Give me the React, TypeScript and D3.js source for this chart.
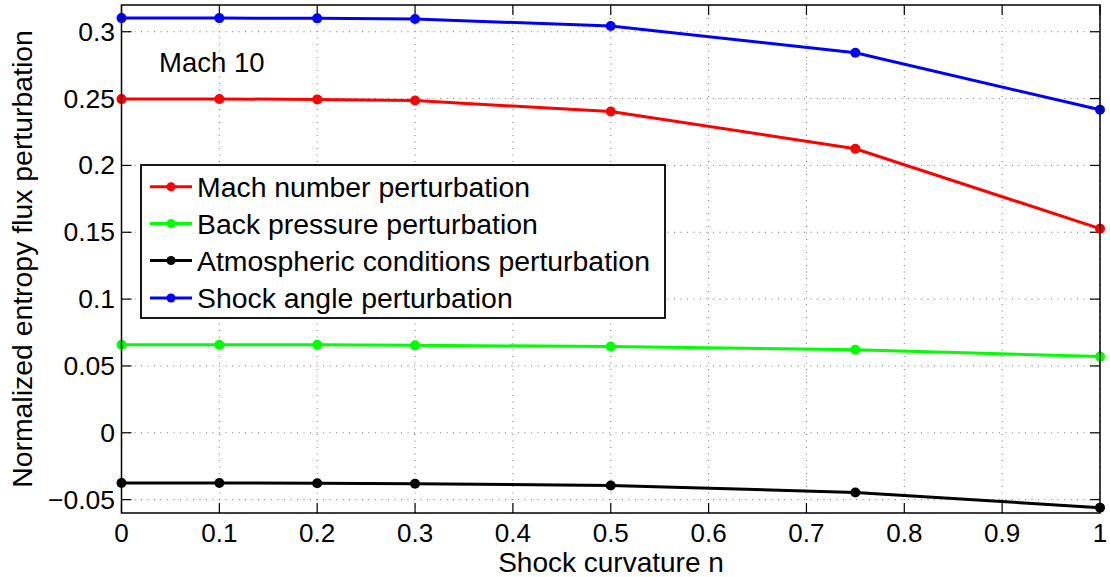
import React from "react";
import * as d3 from "d3";

const xValues = [0, 0.1, 0.2, 0.3, 0.5, 0.75, 1];
const machSeries = [0.2496, 0.2497, 0.2494, 0.2485, 0.2403, 0.2125, 0.1527];
const backSeries = [0.0659, 0.0659, 0.0659, 0.0654, 0.0646, 0.0622, 0.0570];
const atmoSeries = [-0.0376, -0.0376, -0.0377, -0.0381, -0.0394, -0.0446, -0.0560];
const shockSeries = [0.3102, 0.3102, 0.3100, 0.3095, 0.3043, 0.2843, 0.2416];
const xTicks = [0, 0.1, 0.2, 0.3, 0.4, 0.5, 0.6, 0.7, 0.8, 0.9, 1];
const yTicks = [-0.05, 0, 0.05, 0.1, 0.15, 0.2, 0.25, 0.3];
const seriesNames = [
  "Mach number perturbation",
  "Back pressure perturbation",
  "Atmospheric conditions perturbation",
  "Shock angle perturbation",
];
const seriesColors = ["#ff0000", "#00ff00", "#000000", "#0000ff"];
const allSeries = [machSeries, backSeries, atmoSeries, shockSeries];

export default function App() {
  const W = 1110, H = 577;
  const L = 121.5, R = 1100, T = 5, B = 513;
  const x = d3.scaleLinear().domain([0, 1]).range([L, R]);
  const y = d3.scaleLinear().domain([-0.06, 0.32]).range([B, T]);
  const line = d3.line<number>().x((_, i) => x(xValues[i])).y((d) => y(d));
  const font = "'Liberation Sans', Arial, Helvetica, sans-serif";
  const fmt = (v: number) => {
    const s = String(+v.toFixed(2));
    return s.startsWith("-") ? "\u2212" + s.slice(1) : s;
  };
  const legX = 141, legY = 165, legW = 524, legH = 153;
  const rowY = [186.7, 223.5, 260.5, 298];
  return (
    <svg width={W} height={H} style={{ position: "absolute", left: 0, top: 0, background: "#fff" }} fontFamily={font}>
      <rect x={0} y={0} width={W} height={H} fill="#fff" />
      {/* grid */}
      {xTicks.map((t) => (
        <line key={"gx" + t} x1={x(t)} x2={x(t)} y1={T} y2={B} stroke="#777" strokeWidth={1} strokeDasharray="1,5.5" />
      ))}
      {yTicks.map((t) => (
        <line key={"gy" + t} x1={L} x2={R} y1={y(t)} y2={y(t)} stroke="#777" strokeWidth={1} strokeDasharray="1,5.5" />
      ))}
      {/* ticks */}
      {xTicks.map((t) => (
        <g key={"tx" + t}>
          <line x1={x(t)} x2={x(t)} y1={B} y2={B - 10} stroke="#000" strokeWidth={1.2} />
          <line x1={x(t)} x2={x(t)} y1={T} y2={T + 10} stroke="#000" strokeWidth={1.2} />
          <text x={x(t)} y={542} textAnchor="middle" fontSize={26}>{fmt(t)}</text>
        </g>
      ))}
      {yTicks.map((t) => (
        <g key={"ty" + t}>
          <line x1={L} x2={L + 10} y1={y(t)} y2={y(t)} stroke="#000" strokeWidth={1.2} />
          <line x1={R} x2={R - 10} y1={y(t)} y2={y(t)} stroke="#000" strokeWidth={1.2} />
          <text x={115} y={y(t) + 9} textAnchor="end" fontSize={26.5}>{fmt(t)}</text>
        </g>
      ))}
      {/* series */}
      {allSeries.map((s, k) => (
        <g key={"s" + k}>
          <path d={line(s) || ""} fill="none" stroke={seriesColors[k]} strokeWidth={3} />
          {s.map((v, i) => (
            <circle key={i} cx={x(xValues[i])} cy={y(v)} r={5} fill={seriesColors[k]} />
          ))}
        </g>
      ))}
      {/* axes box */}
      <rect x={L} y={T} width={R - L} height={B - T} fill="none" stroke="#000" strokeWidth={1.5} />
      {/* annotation */}
      <text x={159} y={72} fontSize={27.5}>Mach 10</text>
      {/* legend */}
      <rect x={legX} y={legY} width={legW} height={legH} fill="#fff" stroke="#000" strokeWidth={1.8} />
      {seriesNames.map((n, k) => (
        <g key={"l" + k}>
          <line x1={150} x2={192} y1={rowY[k]} y2={rowY[k]} stroke={seriesColors[k]} strokeWidth={3} />
          <circle cx={171} cy={rowY[k]} r={4.5} fill={seriesColors[k]} />
          <text x={197} y={rowY[k] + 10} fontSize={28.4}>{n}</text>
        </g>
      ))}
      {/* axis labels */}
      <text x={611} y={572} textAnchor="middle" fontSize={28}>Shock curvature n</text>
      <text transform={`translate(32, ${(T + B) / 2}) rotate(-90)`} textAnchor="middle" fontSize={28.4}>
        Normalized entropy flux perturbation
      </text>
    </svg>
  );
}
